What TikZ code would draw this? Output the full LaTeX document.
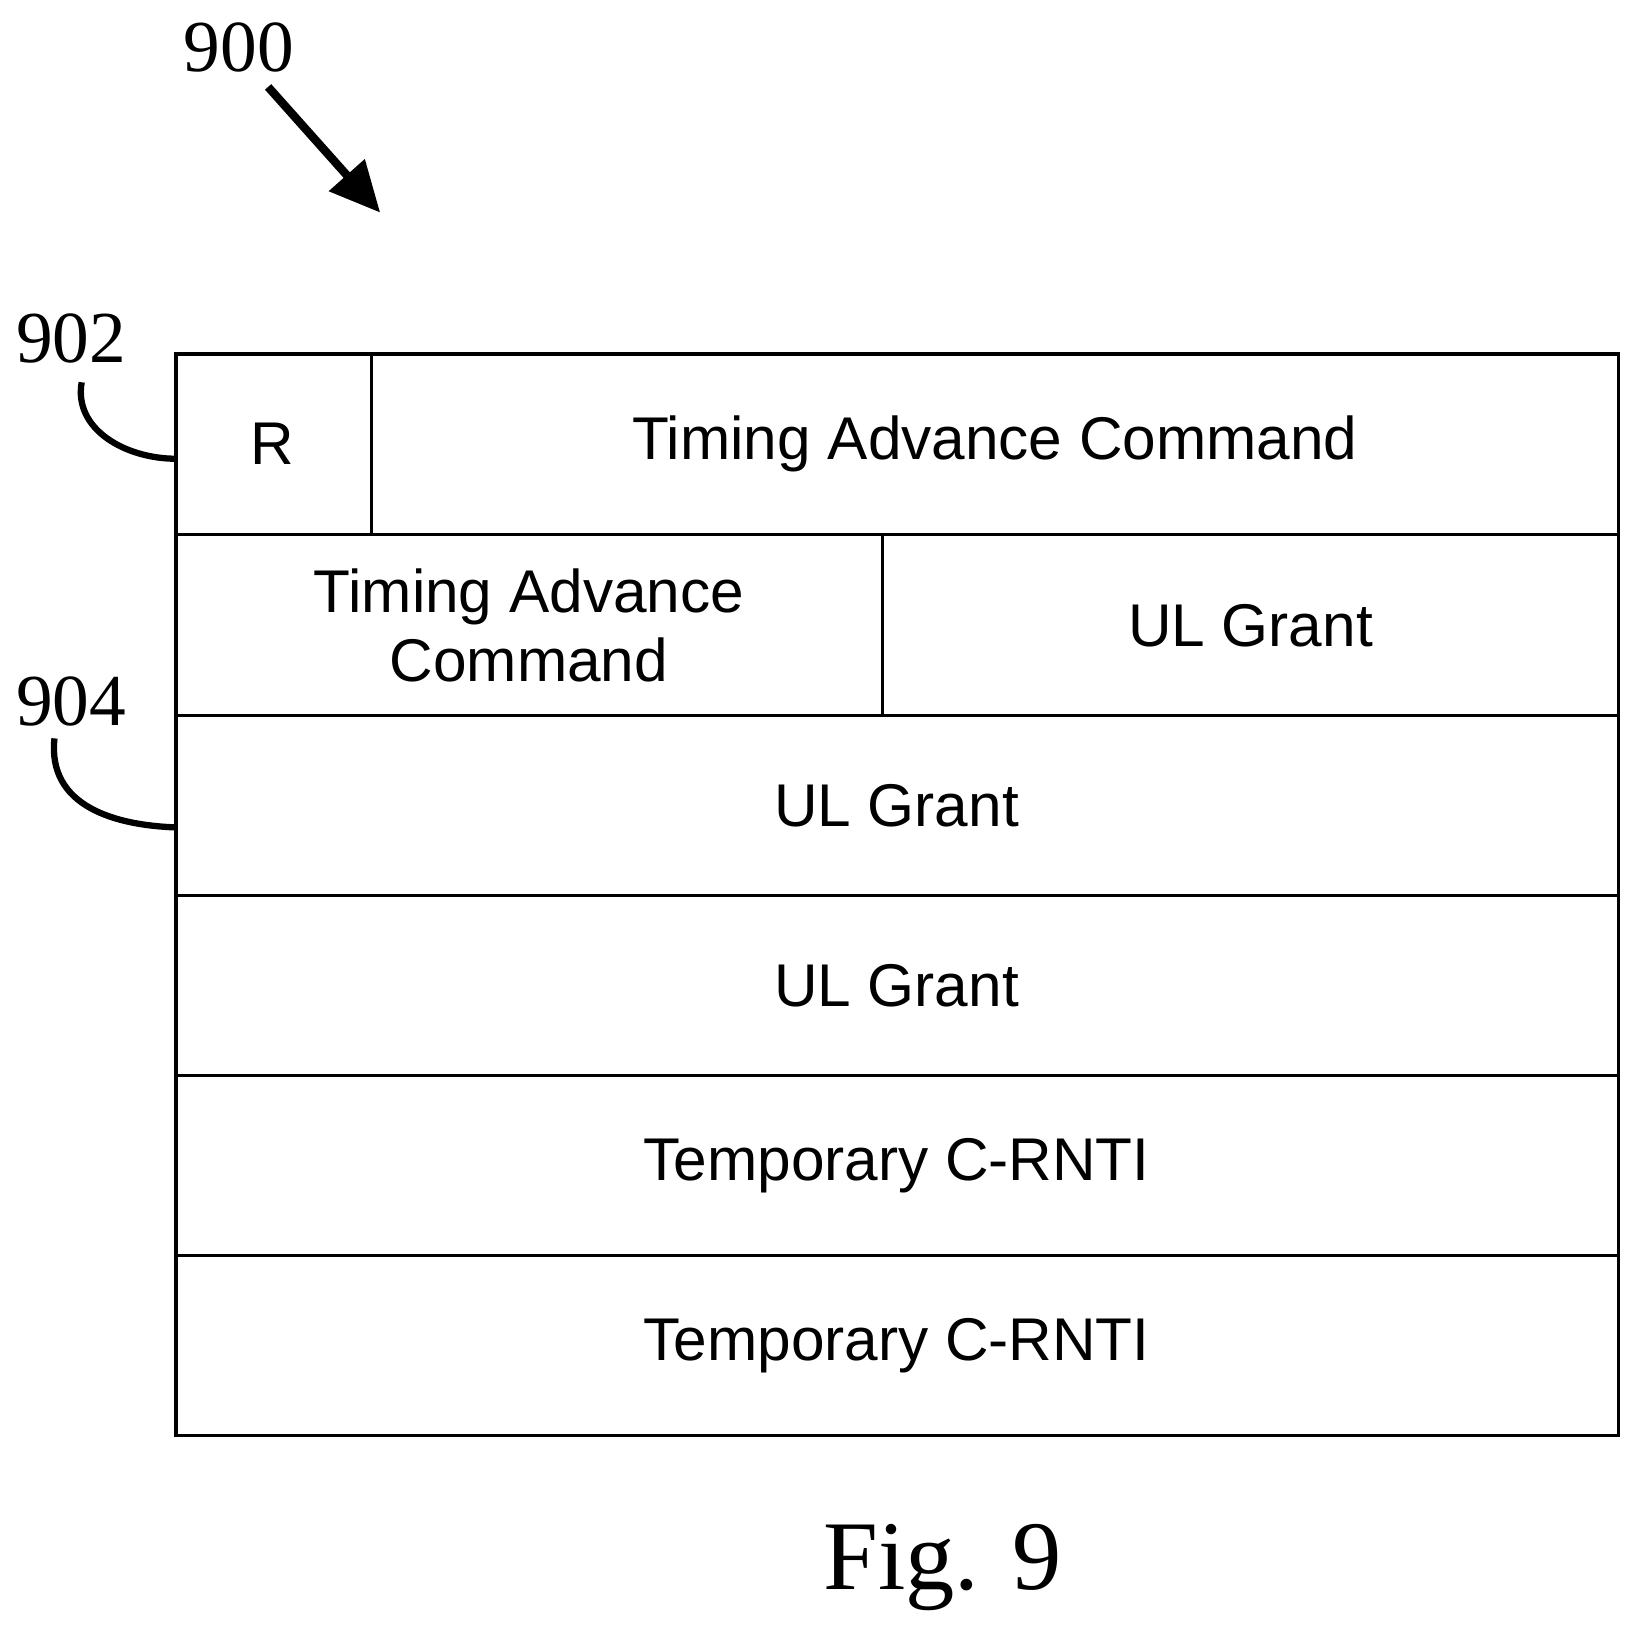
\documentclass[tikz,border=0pt]{standalone}
\usepackage{fontspec}
\setmainfont{Liberation Serif}
\newfontfamily\lsans{Liberation Sans}
\usetikzlibrary{arrows.meta}
\begin{document}
\begin{tikzpicture}[x={(0.5pt,0)},y={(0,-0.5pt)},
  cell/.style={font=\lsans\fontsize{28.8}{33}\selectfont,align=center},
  ref/.style={font=\fontsize{35}{38}\selectfont},
  ln/.style={line width=1.5pt}]
\useasboundingbox (0,0) rectangle (1563,1563);
% grid
\draw[ln] (168,338) rectangle (1545,1371);
\foreach \y in {510,683,855,1027,1199} \draw[ln] (168,\y) -- (1545,\y);
\draw[ln] (355,338) -- (355,510);
\draw[ln] (843,510) -- (843,683);
\node[cell] (r) at (260,424) {R};
\node[cell] (tac1) at (950,424) {Timing Advance Command};
\node[cell] (tac2) at (505,597) {Timing Advance\\Command};
\node[cell] (ul1) at (1194,597) {UL Grant};
\node[cell] (ul2) at (856,769) {UL Grant};
\node[cell] (ul3) at (856,941) {UL Grant};
\node[cell] (tc1) at (856,1113) {Temporary C-RNTI};
\node[cell] (tc2) at (856,1285) {Temporary C-RNTI};
% refs
\node[ref] (n900) at (228,45) {900};
\coordinate (a1) at (256,83);
\coordinate (a2) at (363,203);
\draw[line width=4pt,-{Triangle[length=24pt,width=22pt]}] (a1) -- (a2);
\node[ref] (n902) at (68,323) {902};
\coordinate (c1) at (78,365);
\coordinate (c2) at (168,438);
\draw[line width=3pt] (c1) .. controls (70,410) and (120,438) .. (c2);
\node[ref] (n904) at (68,670) {904};
\coordinate (d1) at (52,705);
\coordinate (d2) at (168,790);
\draw[line width=3pt] (d1) .. controls (45,770) and (110,788) .. (d2);
\node[font=\fontsize{47}{50}\selectfont] (fig) at (900,1497) {Fig. 9};
\end{tikzpicture}
\end{document}
